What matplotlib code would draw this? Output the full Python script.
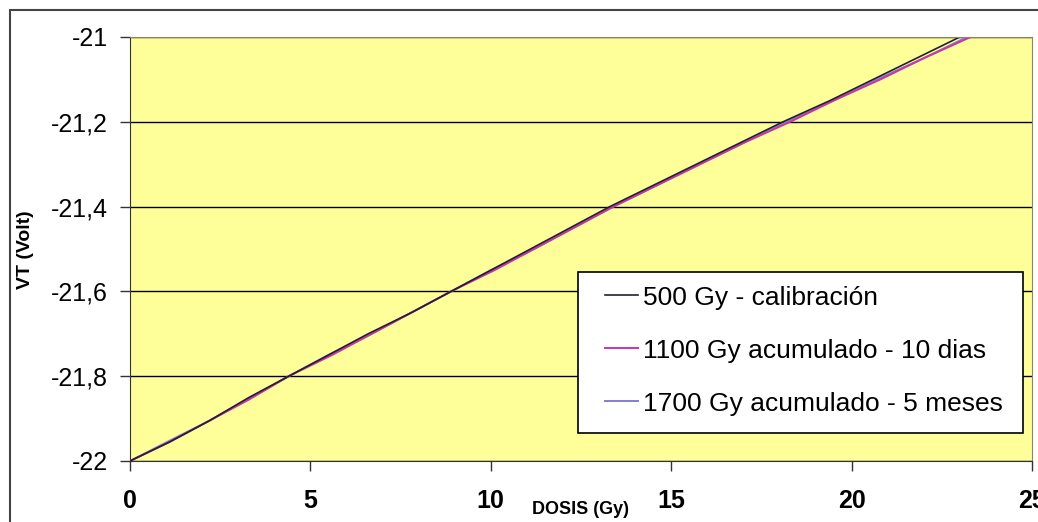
import matplotlib.pyplot as plt
from matplotlib.patches import Rectangle

# data (dose in Gy, threshold voltage in V)
dosis_500 = [0, 1.1, 2.2, 3.3, 4.4, 5.5, 6.6, 7.8, 8.9, 10.0, 11.1, 12.2, 13.3, 14.5, 15.7, 16.9, 18.1, 19.4, 20.6, 21.8, 23.0]
vt_500 = [-22.0, -21.955, -21.905, -21.85, -21.80, -21.75, -21.70, -21.65, -21.60, -21.55, -21.50, -21.45, -21.40, -21.35, -21.30, -21.25, -21.20, -21.15, -21.10, -21.05, -21.0]

dosis_1100 = [0, 1.1, 2.2, 3.3, 4.4, 5.6, 6.7, 7.8, 8.9, 10.1, 11.2, 12.3, 13.4, 14.6, 15.8, 17.0, 18.3, 19.5, 20.8, 22.0, 23.3]
vt_1100 = [-22.0, -21.955, -21.905, -21.855, -21.80, -21.75, -21.70, -21.65, -21.60, -21.55, -21.50, -21.45, -21.40, -21.35, -21.30, -21.25, -21.20, -21.15, -21.10, -21.05, -21.0]

dosis_1700 = [0, 1.1, 2.2, 3.3, 4.4, 5.5, 6.7, 7.8, 8.9, 10.0, 11.2, 12.3, 13.4, 14.6, 15.8, 17.0, 18.2, 19.5, 20.7, 22.0, 23.2]
vt_1700 = [-22.0, -21.952, -21.905, -21.852, -21.80, -21.75, -21.70, -21.65, -21.60, -21.55, -21.50, -21.45, -21.40, -21.35, -21.30, -21.25, -21.20, -21.15, -21.10, -21.05, -21.0]

labels = ['500 Gy - calibración', '1100 Gy acumulado - 10 dias', '1700 Gy acumulado - 5 meses']
x_ticks = [0, 5, 10, 15, 20, 25]
y_ticks = [-22, -21.8, -21.6, -21.4, -21.2, -21]
y_ticklabels = ['-22', '-21,8', '-21,6', '-21,4', '-21,2', '-21']

plt.rcParams['font.family'] = ['Liberation Sans', 'DejaVu Sans']

fig = plt.figure(figsize=(10.38, 5.22), dpi=100)
# outer chart frame (right and bottom run off the picture)
fig.patches.append(Rectangle((10 / 1038, -0.1), 1.2, 1.1 - 10 / 522, transform=fig.transFigure,
                             fill=False, edgecolor='#444444', linewidth=1.5))
ax = fig.add_axes([130 / 1038, 61 / 522, 902 / 1038, 424 / 522])
ax.set_facecolor('#ffff99')

ax.plot(dosis_1700, vt_1700, color='#7f7fd0', lw=1.4, label=labels[2])
ax.plot(dosis_1100, vt_1100, color='#cc33aa', lw=1.4, label=labels[1])
ax.plot(dosis_500, vt_500, color='#202030', lw=1.2, label=labels[0])

ax.set_xlim(0, 25)
ax.set_ylim(-22, -21)
ax.set_xticks(x_ticks)
ax.set_xticklabels([str(t) for t in x_ticks], fontsize=18, fontweight='bold')
ax.set_yticks(y_ticks)
ax.set_yticklabels(y_ticklabels, fontsize=18)
ax.tick_params(axis='both', direction='out', length=7, width=1, color='#333333')
ax.tick_params(axis='x', pad=13)
ax.tick_params(axis='y', pad=9)
ax.grid(axis='y', color='black', lw=1)
for s in ax.spines.values():
    s.set_color('#888866')
ax.spines['left'].set_color('#333333')
ax.spines['bottom'].set_color('#333333')

# legend box drawn by hand so the padding can differ left/right vs top/bottom
ax.add_patch(Rectangle((0.4967, 0.066), 0.4933, 0.3798, transform=ax.transAxes,
                       facecolor='white', edgecolor='black', lw=1.2, zorder=4))
handles, labs = ax.get_legend_handles_labels()
order = [2, 1, 0]
leg = ax.legend([handles[i] for i in order], [labs[i] for i in order],
                loc='upper left', bbox_to_anchor=(0.5266, 0.4137), fontsize=19,
                frameon=False, handlelength=1.25, handletextpad=0.2, labelspacing=1.1,
                borderpad=0, borderaxespad=0)
leg.set_zorder(5)

fig.text(580 / 1038, 1 - 510 / 522, 'DOSIS (Gy)', fontsize=13, fontweight='bold', ha='center', va='center')
fig.text(25 / 1038, 1 - 250 / 522, 'VT (Volt)', fontsize=14, fontweight='bold', ha='center', va='center', rotation=90)

fig.savefig('out.png', dpi=100)
